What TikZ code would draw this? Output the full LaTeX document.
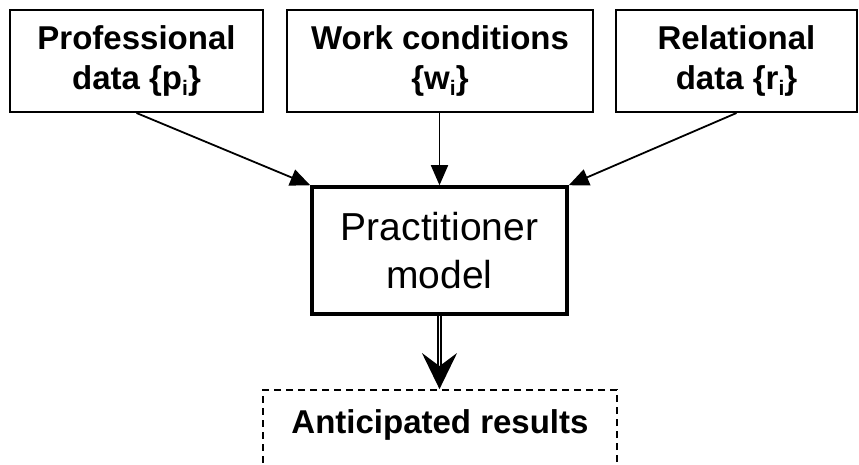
\documentclass[tikz,border=0pt]{standalone}
\usepackage{fontspec}
\setmainfont{Liberation Sans}
\usetikzlibrary{positioning,calc,arrows.meta}
\newcommand{\idxsub}[1]{\raisebox{-0.35ex}{\fontsize{21}{21}\selectfont #1}}
\tikzstyle{datum} = [draw,line width=2pt,inner sep=0pt,minimum height=102pt,align=center,font=\fontsize{33}{40}\selectfont\bfseries]
\tikzstyle{model} = [draw,line width=3.5pt,inner sep=0pt,minimum width=255pt,minimum height=127pt,align=center,font=\fontsize{39}{48}\selectfont]
\tikzstyle{result} = [draw,line width=1.8pt,dash pattern=on 7pt off 5pt,inner sep=0pt,minimum width=354pt,minimum height=78pt,text depth=15pt,font=\fontsize{33}{40}\selectfont\bfseries]
\tikzstyle{line} = [draw,line width=1.8pt,-{Triangle[length=20pt,width=17pt]}]

\begin{document}
\begin{tikzpicture}[x=1pt,y=-1pt]
                \useasboundingbox (0,0) rectangle (859,465);
                \node[datum,minimum width=253pt] (prof) at (136.5,61) {Professional\\data \{p\idxsub{i}\}};
                \node[datum,minimum width=306pt] (work) at (440,61) {Work conditions\\\{w\idxsub{i}\}};
                \node[datum,minimum width=241pt] (rel) at (736.5,61) {Relational\\data \{r\idxsub{i}\}};
                \node[model] (pm) at (439.5,250.5) {Practitioner\\model};
                \node[result] (ar) at (440,429) {Anticipated results};
                \path [line] (prof.south) -- (pm.north west);
                \path [line] (work.south -| pm.north) -- (pm.north);
                \path [line] (rel.south) -- (pm.north east);
                % double connector to the results
                \draw[line width=1.8pt,double distance=1.5pt,-{Stealth[length=36pt,width=35pt,inset=13pt]}] (pm.south) -- (pm.south |- ar.north);
            \end{tikzpicture}
\end{document}
